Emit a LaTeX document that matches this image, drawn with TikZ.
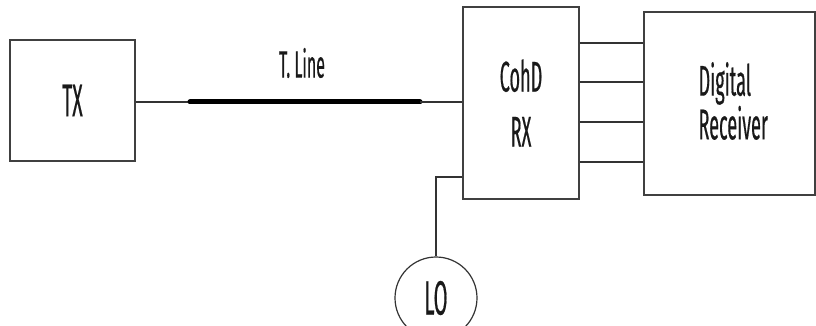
\documentclass[tikz,border=0pt]{standalone}
\usepackage{fontspec}
\setmainfont{Fira Sans}[FakeStretch=0.42,FakeBold=0.4]
\usepackage{tikz}

\begin{document}
\begin{tikzpicture}[x=1pt,y=1pt,
   blk/.style={draw=black!75,line width=1.6pt,rectangle,minimum width=#1},
   wire/.style={draw=black!80,line width=1.3pt},
   txt/.style={text=black!90,font=\fontsize{46}{52}\selectfont}]
\useasboundingbox (0,0) rectangle (816,-326);
\node[blk=125,minimum height=121,txt] (tx) at (72.5,-100.5) {TX};
\node[blk=116,minimum height=192,txt,align=center,
   font=\fontsize{43}{55}\selectfont] (rx) at (521,-103) {CohD\\RX};
\node[blk=171,minimum height=183] (dr) at (729.5,-103.5) {};
\node[txt,align=left,anchor=west,font=\fontsize{43}{38}\selectfont] (drtext) at (695,-101) {Digital\\Receiver};
\node[draw=black!80,line width=1.2pt,circle,minimum size=82,txt,inner sep=0pt,
   font=\fontsize{48}{50}\selectfont] (lo) at (436,-298) {LO};
\node[txt,font=\fontsize{38}{42}\selectfont] (tlabel) at (302,-63) {T. Line};
\coordinate (tl1) at (190,-102);
\coordinate (tl2) at (420,-102);
\draw[wire] (tx.east |- tl1) -- (tl1);
\draw[line width=5pt,line cap=round] (tl1) -- (tl2);
\draw[wire] (tl2) -- (rx.west |- tl2);
\foreach \y in {43,82,122,162} {
   \draw[wire] (rx.east |- 0,-\y) -- (dr.west |- 0,-\y);
}
\draw[wire] (rx.west |- 0,-177) -| (lo.north);
\end{tikzpicture}
\end{document}
